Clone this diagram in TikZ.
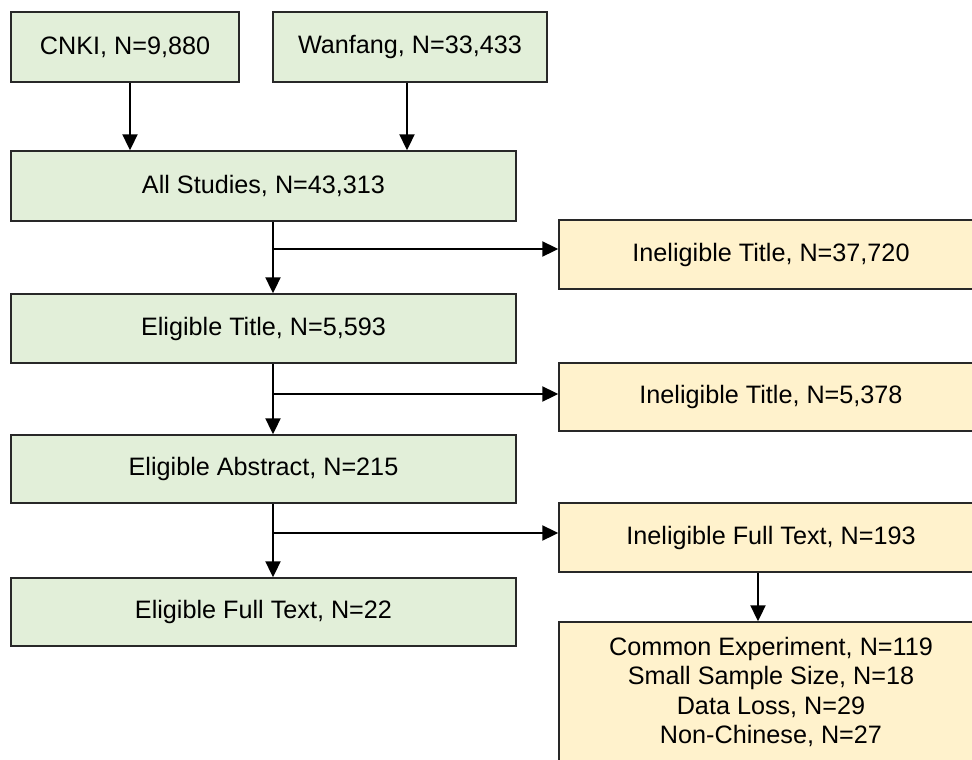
\documentclass[tikz,border=0pt]{standalone}
\usepackage{fontspec}
\setmainfont{Liberation Sans}
\usetikzlibrary{arrows.meta,positioning,calc}
\definecolor{gfill}{RGB}{226,239,217}
\definecolor{yfill}{RGB}{255,242,204}
\definecolor{edge}{RGB}{40,40,40}
\tikzset{
  gbox/.style={draw=edge,fill=gfill,line width=1.4pt,rectangle,inner sep=0pt,align=center,font=\fontsize{25.2}{29.3}\selectfont},
  ybox/.style={draw=edge,fill=yfill,line width=1.4pt,rectangle,inner sep=0pt,align=center,font=\fontsize{25.2}{29.3}\selectfont},
  arr/.style={line width=2pt,black,-{Triangle[length=16pt,width=15pt]}},
  ln/.style={line width=2pt,black}
}
\begin{document}
\begin{tikzpicture}[x=1pt,y=-1pt]
\useasboundingbox (0,0) rectangle (972,760);
\clip (0,0) rectangle (972,760);
\fill[white] (0,0) rectangle (972,760);
% left column
\node[gbox,minimum width=228pt,minimum height=70pt] (cnki) at (125,47) {CNKI, N=9,880};
\node[gbox,minimum width=274pt,minimum height=70pt] (wan) at (410,47) {Wanfang, N=33,433};
\node[gbox,minimum width=505pt,minimum height=70pt] (all) at (263.5,186) {All Studies, N=43,313};
\node[gbox,minimum width=505pt,minimum height=69pt] (et) at (263.5,328.5) {Eligible Title, N=5,593};
\node[gbox,minimum width=505pt,minimum height=68pt] (ea) at (263.5,469) {Eligible Abstract, N=215};
\node[gbox,minimum width=505pt,minimum height=68pt] (eft) at (263.5,612) {Eligible Full Text, N=22};
% right column
\node[ybox,minimum width=424pt,minimum height=69pt] (in1) at (771,254.5) {Ineligible Title, N=37,720};
\node[ybox,minimum width=424pt,minimum height=68pt] (in2) at (771,397) {Ineligible Title, N=5,378};
\node[ybox,minimum width=424pt,minimum height=69pt] (inft) at (771,537.5) {Ineligible Full Text, N=193};
\node[ybox,minimum width=424pt,minimum height=140pt] (com) at (771,692) {Common Experiment, N=119\\Small Sample Size, N=18\\Data Loss, N=29\\Non-Chinese, N=27};
% connectors
\draw[arr] ([xshift=5pt]cnki.south) -- ([xshift=5pt]cnki.south |- all.north);
\draw[arr] ([xshift=-3pt]wan.south) -- ([xshift=-3pt]wan.south |- all.north);
\coordinate (s1) at (273,249);
\coordinate (s2) at (273,394);
\coordinate (s3) at (273,533);
\draw[ln] (all.south -| s1) -- (s1);
\draw[arr] (s1) -- (s1 |- et.north);
\draw[arr] (s1) -- (s1 -| in1.west);
\draw[ln] (et.south -| s2) -- (s2);
\draw[arr] (s2) -- (s2 |- ea.north);
\draw[arr] (s2) -- (s2 -| in2.west);
\draw[ln] (ea.south -| s3) -- (s3);
\draw[arr] (s3) -- (s3 |- eft.north);
\draw[arr] (s3) -- (s3 -| inft.west);
\coordinate (s4) at (758,600);
\draw[arr] (inft.south -| s4) -- (com.north -| s4);
\end{tikzpicture}
\end{document}
